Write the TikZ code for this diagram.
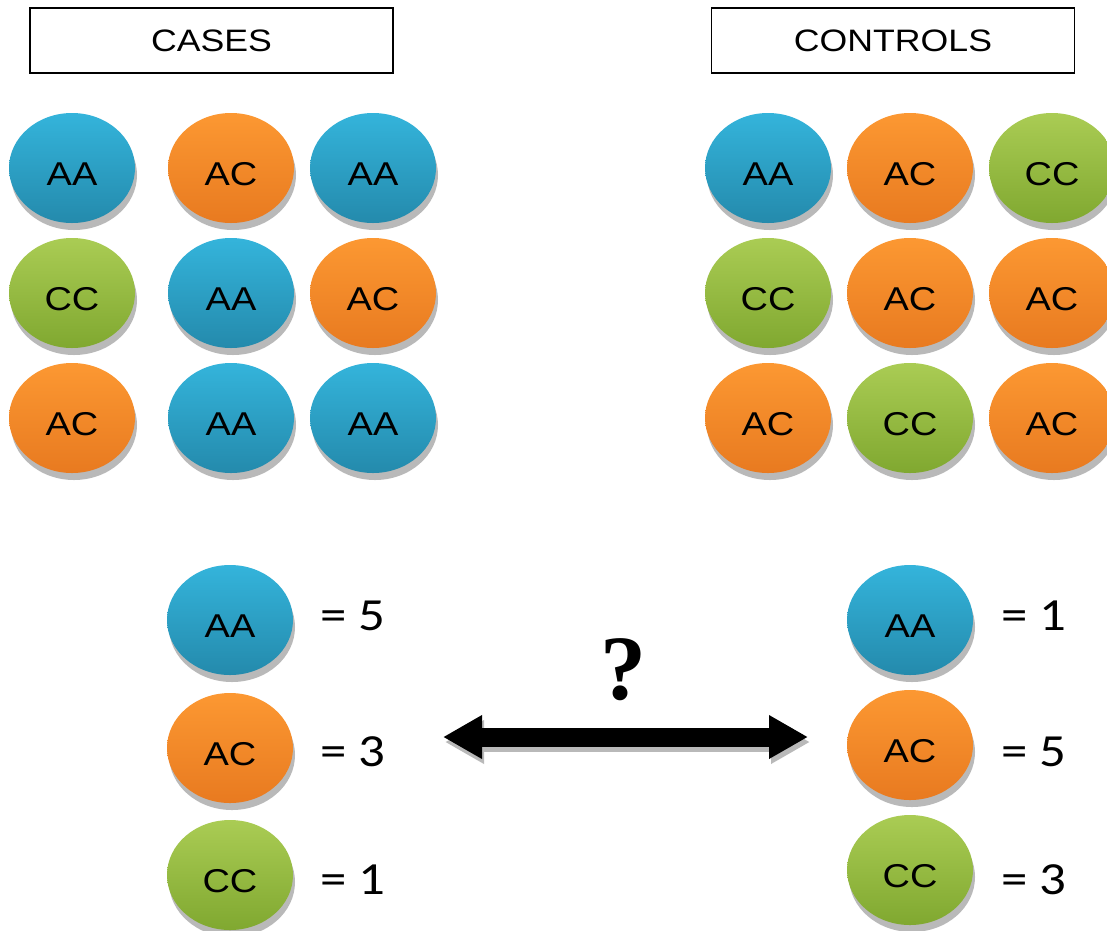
\documentclass[tikz,border=0pt]{standalone}
\usepackage{fontspec}
\setmainfont{Liberation Sans}
\newfontfamily\genofont[FakeStretch=1.15]{Liberation Sans}
\newfontfamily\countfont[FakeStretch=1.15]{Carlito}
\newfontfamily\qfont{Liberation Serif}
\usetikzlibrary{shapes.geometric,arrows.meta,shadows}

\definecolor{blueTop}{RGB}{52,180,219}
\definecolor{blueBot}{RGB}{36,138,172}
\definecolor{orangeTop}{RGB}{252,152,50}
\definecolor{orangeBot}{RGB}{232,122,32}
\definecolor{greenTop}{RGB}{170,204,84}
\definecolor{greenBot}{RGB}{128,168,48}
\definecolor{shadowgray}{RGB}{185,185,185}

\tikzset{
  geno/.style={ellipse, minimum width=126pt, minimum height=110pt, inner sep=0pt,
    font=\genofont\fontsize{33}{33}\selectfont, text=black,
    text height=35pt, text depth=0pt,
    drop shadow={shadow xshift=2pt, shadow yshift=-7pt, fill=shadowgray, opacity=1}},
  gAA/.style={geno, top color=blueTop, bottom color=blueBot},
  gAC/.style={geno, top color=orangeTop, bottom color=orangeBot},
  gCC/.style={geno, top color=greenTop, bottom color=greenBot},
  header/.style={draw, line width=1.3pt, minimum width=363pt, minimum height=65pt,
    inner sep=0pt, font=\genofont\fontsize{31}{31}\selectfont},
  count/.style={anchor=west, inner sep=0pt, font=\countfont\fontsize{46}{46}\selectfont},
}

\begin{document}
\begin{tikzpicture}[x=1pt,y=-1pt]
\useasboundingbox (0,0) rectangle (1107,930);
\clip (0,0) rectangle (1107,930);
\fill[white] (0,0) rectangle (1107,930);

% group headers
\node[header] (cases) at (211.5,40.5) {CASES};
\node[header] (controls) at (893,40.5) {CONTROLS};

% cases grid
\node[gAA] (ca1) at (72,168) {AA};
\node[gAC] (ca2) at (231,168) {AC};
\node[gAA] (ca3) at (373,168) {AA};
\node[gCC] (ca4) at (72,293) {CC};
\node[gAA] (ca5) at (231,293) {AA};
\node[gAC] (ca6) at (373,293) {AC};
\node[gAC] (ca7) at (72,418) {AC};
\node[gAA] (ca8) at (231,418) {AA};
\node[gAA] (ca9) at (373,418) {AA};

% controls grid
\node[gAA] (co1) at (768,168) {AA};
\node[gAC] (co2) at (910,168) {AC};
\node[gCC] (co3) at (1052,168) {CC};
\node[gCC] (co4) at (768,293) {CC};
\node[gAC] (co5) at (910,293) {AC};
\node[gAC] (co6) at (1052,293) {AC};
\node[gAC] (co7) at (768,418) {AC};
\node[gCC] (co8) at (910,418) {CC};
\node[gAC] (co9) at (1052,418) {AC};

% case totals
\node[gAA] (sa1) at (230,620) {AA};
\node[gAC] (sa2) at (230,748) {AC};
\node[gCC] (sa3) at (230,875) {CC};
\node[count] (na1) at (320,616) {= 5};
\node[count] (na2) at (320,752) {= 3};
\node[count] (na3) at (320,880) {= 1};

% control totals
\node[gAA] (sb1) at (910,620) {AA};
\node[gAC] (sb2) at (910,745) {AC};
\node[gCC] (sb3) at (910,870) {CC};
\node[count] (nb1) at (1001,616) {= 1};
\node[count] (nb2) at (1001,752) {= 5};
\node[count] (nb3) at (1001,880) {= 3};

% comparison arrow
\coordinate (arrL) at (443,737);
\coordinate (arrR) at (808,737);
\draw[shadowgray, line width=19pt,
  {Triangle[length=39pt,width=41pt]}-{Triangle[length=39pt,width=41pt]}]
  ([shift={(2,5)}]arrL) -- ([shift={(2,5)}]arrR);
\draw[black, line width=19pt,
  {Triangle[length=39pt,width=41pt]}-{Triangle[length=39pt,width=41pt]}]
  (arrL) -- (arrR);
\node[font=\qfont\bfseries\fontsize{92}{92}\selectfont, inner sep=0pt] (q) at (623,670) {?};
\end{tikzpicture}
\end{document}
